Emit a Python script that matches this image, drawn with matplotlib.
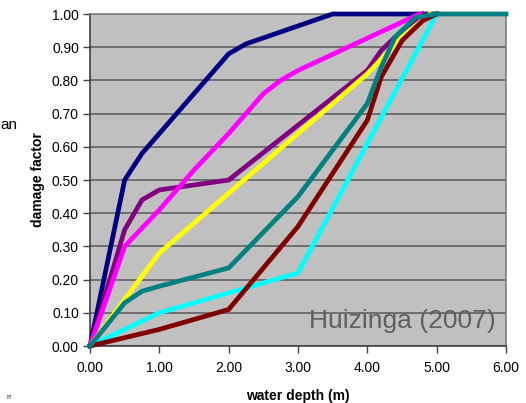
import matplotlib
matplotlib.use("Agg")
import matplotlib.pyplot as plt

plt.rcParams['font.family'] = ['Liberation Sans', 'DejaVu Sans']

# damage curves, water depth (m) vs damage factor
navy_x = [0, 0.5, 0.75, 1.0, 2.0, 2.25, 3.5, 5.0]
navy_y = [0, 0.50, 0.58, 0.64, 0.88, 0.91, 1.00, 1.00]

purple_x = [0, 0.5, 0.75, 1.0, 2.0, 4.0, 4.2, 4.5, 4.8]
purple_y = [0, 0.35, 0.44, 0.47, 0.50, 0.83, 0.89, 0.95, 1.00]

magenta_x = [0, 0.5, 1.0, 1.5, 2.0, 2.5, 2.75, 3.0, 4.75]
magenta_y = [0, 0.30, 0.41, 0.53, 0.64, 0.76, 0.80, 0.83, 1.00]

yellow_x = [0, 0.5, 1.0, 2.0, 3.0, 4.0, 4.5, 4.9]
yellow_y = [0, 0.14, 0.28, 0.46, 0.64, 0.82, 0.93, 1.00]

cyan_x = [0, 1.0, 2.0, 3.0, 5.0]
cyan_y = [0, 0.10, 0.16, 0.22, 1.00]

maroon_x = [0, 1.0, 2.0, 3.0, 4.0, 4.2, 4.5, 4.8, 5.0]
maroon_y = [0, 0.05, 0.11, 0.36, 0.68, 0.81, 0.92, 0.98, 1.00]

teal_x = [0, 0.5, 0.75, 1.0, 2.0, 3.0, 4.0, 4.2, 4.4, 4.7, 5.0, 6.0]
teal_y = [0, 0.13, 0.165, 0.18, 0.235, 0.45, 0.73, 0.84, 0.93, 0.99, 1.00, 1.00]

x_ticks = [0, 1, 2, 3, 4, 5, 6]
y_ticks = [0, 0.1, 0.2, 0.3, 0.4, 0.5, 0.6, 0.7, 0.8, 0.9, 1.0]

curves = [
    (navy_x, navy_y, "#000080"),
    (purple_x, purple_y, "#800080"),
    (magenta_x, magenta_y, "#FF00FF"),
    (yellow_x, yellow_y, "#FFFF00"),
    (cyan_x, cyan_y, "#00FFFF"),
    (maroon_x, maroon_y, "#800000"),
    (teal_x, teal_y, "#008080"),
]

fig = plt.figure(figsize=(5.26, 4.03), dpi=100)
ax = fig.add_axes([90 / 526, 1 - 346 / 403, 416 / 526, 332 / 403])
ax.set_facecolor("#C0C0C0")

for i, (xs, ys, c) in enumerate(curves):
    ax.plot(xs, ys, color=c, lw=3.4, solid_joinstyle="miter", zorder=3 + i, clip_on=False)

ax.set_xlim(0, 6)
ax.set_ylim(0, 1)
ax.set_xticks(x_ticks)
ax.set_yticks(y_ticks)
ax.set_xticklabels([f"{v:.2f}" for v in x_ticks])
ax.set_yticklabels([f"{v:.2f}" for v in y_ticks])
ax.tick_params(direction="out", length=5, width=1, color="#404040", labelsize=10, pad=3)
ax.tick_params(axis="x", pad=6)
ax.grid(axis="y", color="#606060", lw=1.2, zorder=1)
for side in ["left", "bottom"]:
    ax.spines[side].set_color("#404040")
    ax.spines[side].set_linewidth(1.2)
for side in ["top", "right"]:
    ax.spines[side].set_color("#808080")
    ax.spines[side].set_linewidth(1.2)

ax.set_xlabel("water depth (m)", fontsize=10, fontweight="bold", labelpad=10)
ax.set_ylabel("damage factor", fontsize=10, fontweight="bold", labelpad=5)

ax.text(0.975, 0.04, "Huizinga (2007)", transform=ax.transAxes, ha="right", va="bottom",
        fontsize=19, color="#606060", zorder=20)

fig.text(0.0, 1 - 125 / 403, "an", fontsize=11, ha="left", va="center")
fig.text(10 / 526, 1 - 395 / 403, "91", fontsize=4, rotation=90, ha="center", va="center",
         color="#404040")

fig.savefig("out.png", dpi=100)
